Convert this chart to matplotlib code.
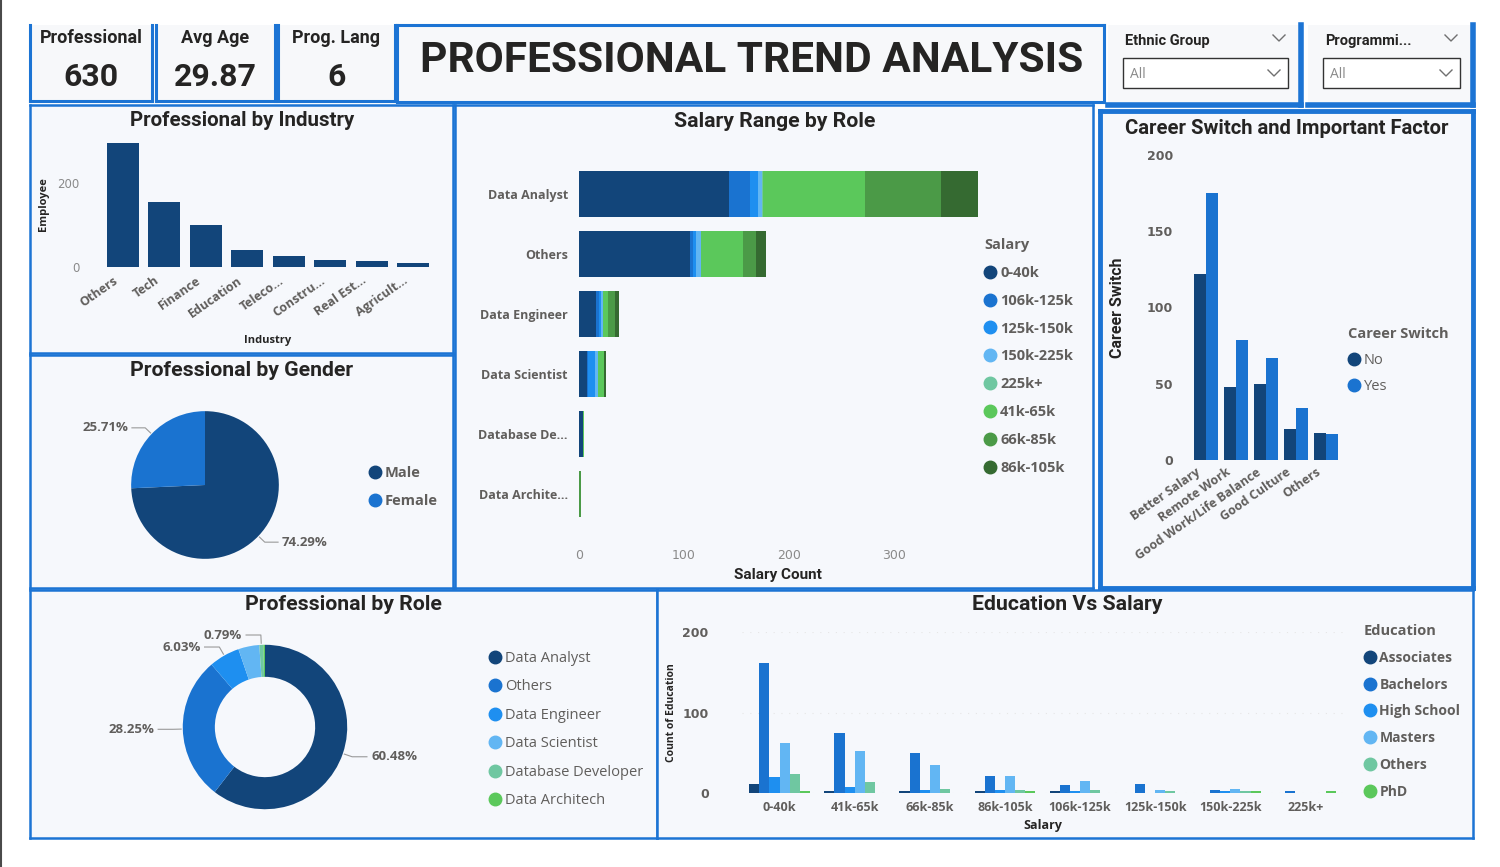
import matplotlib
matplotlib.use('Agg')
import matplotlib.pyplot as plt
from matplotlib.patches import Rectangle
from matplotlib.lines import Line2D
import numpy as np

# ---------------- data ----------------
kpi_names = ['Professional', 'Avg Age', 'Prog. Lang']
kpi_values = ['630', '29.87', '6']

industries = ['Others', 'Tech', 'Finance', 'Education', 'Teleco...', 'Constru...',
              'Real Est...', 'Agricult...']
industry_count = [294, 155, 101, 41, 25, 17, 14, 9]

gender_names = ['Male', 'Female']
gender_pct = [74.29, 25.71]

roles = ['Data Analyst', 'Others', 'Data Engineer', 'Data Scientist',
         'Database Developer', 'Data Architech']
role_ticks = ['Data Analyst', 'Others', 'Data Engineer', 'Data Scientist',
              'Database De...', 'Data Archite...']
role_count = [381, 178, 38, 26, 5, 2]

# salary range by role (stack order = legend order)
salary_legend = ['0-40k', '106k-125k', '125k-150k', '150k-225k', '225k+',
                 '41k-65k', '66k-85k', '86k-105k']
sal_0_40k = [143, 106, 16, 8, 4, 0]
sal_106_125k = [20, 3, 3, 1, 0, 0]
sal_125_150k = [7, 2, 2, 6, 0, 0]
sal_150_225k = [4, 5, 2, 3, 0, 0]
sal_225k_plus = [1, 0, 0, 0, 0, 0]
sal_41_65k = [97, 40, 5, 6, 1, 0]
sal_66_85k = [73, 13, 6, 0, 0, 2]
sal_86_105k = [36, 9, 4, 2, 0, 0]

factors = ['Better Salary', 'Remote Work', 'Good Work/Life Balance', 'Good Culture', 'Others']
switch_no = [122, 48, 50, 20, 18]
switch_yes = [175, 79, 67, 34, 17]

salary_bands = ['0-40k', '41k-65k', '66k-85k', '86k-105k', '106k-125k',
                '125k-150k', '150k-225k', '225k+']
education = ['Associates', 'Bachelors', 'High School', 'Masters', 'Others', 'PhD']
edu_associates = [11, 3, 2, 3, 3, 0, 0, 0]
edu_bachelors = [162, 75, 50, 21, 10, 11, 4, 2]
edu_high_school = [20, 8, 4, 4, 3, 0, 2, 0]
edu_masters = [62, 52, 35, 21, 15, 4, 5, 0]
edu_others = [24, 14, 5, 4, 4, 3, 2, 0]
edu_phd = [3, 0, 0, 3, 0, 0, 2, 2]

# ---------------- style ----------------
NAVY = '#12457A'
BLUE = '#1A73D0'
BRIGHT = '#1E8FF0'
LIGHT = '#62B6F3'
TEAL = '#6FC7A1'
GREEN = '#5BC85B'
MGREEN = '#4B9A47'
DGREEN = '#356A31'
EDGE = '#1C74D4'
BG = '#F6F8FC'
DARK = '#252423'
GRAY = '#605E5C'

TFONT = ['Roboto', 'DejaVu Sans']
BFONT = ['Open Sans', 'DejaVu Sans']

W, H = 1500, 867
fig = plt.figure(figsize=(15, 8.67), dpi=100)
fig.patch.set_facecolor('white')


def fx(x):
    return x / W


def fy(y):
    return 1 - y / H


def add_ax(x0, y0, x1, y1):
    ax = fig.add_axes([fx(x0), fy(y1), (x1 - x0) / W, (y1 - y0) / H])
    ax.set_facecolor('none')
    for s in ax.spines.values():
        s.set_visible(False)
    return ax


def panel(x0, y0, x1, y1, sides='lrtb', lw=1.8, fc=BG):
    fig.add_artist(Rectangle((fx(x0), fy(y1)), (x1 - x0) / W, (y1 - y0) / H,
                             transform=fig.transFigure, facecolor=fc,
                             edgecolor='none', zorder=0))
    segs = {'l': ([x0, x0], [y0, y1]), 'r': ([x1, x1], [y0, y1]),
            't': ([x0, x1], [y0, y0]), 'b': ([x0, x1], [y1, y1])}
    for s in sides:
        xs, ys = segs[s]
        fig.add_artist(Line2D([fx(v) for v in xs], [fy(v) for v in ys],
                              transform=fig.transFigure, color=EDGE, lw=lw, zorder=0))


def title(x, y, txt, size=15.3):
    fig.text(fx(x), fy(y), txt, ha='center', va='center', fontsize=size,
             fontweight='bold', color=DARK, family=TFONT)


def legend(colors, labels, x, y, ttl=None, spacing=1.0, weight='bold', size=10.5):
    handles = [Line2D([], [], marker='o', linestyle='none', markersize=9,
                      markerfacecolor=c, markeredgecolor=c) for c in colors]
    leg = fig.legend(handles, labels, loc='upper left', bbox_to_anchor=(fx(x), fy(y)),
                     frameon=False, title=ttl, alignment='left', handletextpad=0.3,
                     handlelength=0.8, labelspacing=spacing, borderpad=0,
                     borderaxespad=0,
                     prop={'size': size, 'weight': weight, 'family': BFONT},
                     title_fontproperties={'size': 10.5, 'weight': 'bold', 'family': BFONT})
    for t in leg.get_texts():
        t.set_color(GRAY)
    if ttl:
        leg.get_title().set_color(GRAY)
    return leg


def pie_labels(ax, wedges, labels):
    for w, lab in zip(wedges, labels):
        if not lab:
            continue
        ang = np.deg2rad((w.theta1 + w.theta2) / 2)
        c, s = np.cos(ang), np.sin(ang)
        sign = 1 if c >= 0 else -1
        p0 = (1.02 * c, 1.02 * s)
        p1 = (1.12 * c, 1.12 * s)
        p2 = (p1[0] + sign * 0.18, p1[1])
        ax.plot([p0[0], p1[0], p2[0]], [p0[1], p1[1], p2[1]], color='#9A9A9A', lw=0.8)
        ax.text(p2[0] + sign * 0.05, p2[1], lab, ha='left' if sign > 0 else 'right',
                va='center', fontsize=9.5, fontweight='bold', color=GRAY, family=BFONT)


# left window edge
fig.add_artist(Line2D([fx(1), fx(1)], [0, 1], transform=fig.transFigure,
                      color='#4A4A4A', lw=1.5))

# ---------------- top row ----------------
card_x = [(30, 152), (156, 275), (278, 395)]
for (x0, x1), name, val in zip(card_x, kpi_names, kpi_values):
    panel(x0, 25, x1, 101, sides='lrb', lw=2.2, fc='#F7F8FA')
    cx = (x0 + x1) / 2
    fig.text(fx(cx), fy(38), name, ha='center', va='center', fontsize=13,
             fontweight='bold', color=DARK, family=TFONT)
    fig.text(fx(cx), fy(77), val, ha='center', va='center', fontsize=23,
             fontweight='bold', color=DARK, family=TFONT)

panel(397, 25, 1104, 102, lw=2.2, fc='#F7F8FA')
fig.text(fx(752), fy(60), 'PROFESSIONAL TREND ANALYSIS', ha='center', va='center',
         fontsize=30.5, fontweight='bold', color=DARK, family=TFONT)


def slicer(x0, x1, name):
    panel(x0, 25, x1, 105, sides='rb', lw=4, fc='#F7F8FA')
    fig.text(fx(x0 + 17), fy(41), name, ha='left', va='center', fontsize=10.5,
             fontweight='bold', color=DARK, family=TFONT)
    fig.add_artist(Rectangle((fx(x0 + 15), fy(88)), (x1 - x0 - 28) / W, 30 / H,
                             transform=fig.transFigure, facecolor='white',
                             edgecolor='#333333', lw=1.0))
    fig.text(fx(x0 + 22), fy(74), 'All', ha='left', va='center', fontsize=10,
             color='#8A8A8A', family=BFONT)
    for cxv, cyv in [(x1 - 22, 38), (x1 - 27, 73)]:
        fig.add_artist(Line2D([fx(cxv - 6), fx(cxv), fx(cxv + 6)],
                              [fy(cyv - 3), fy(cyv + 3), fy(cyv - 3)],
                              transform=fig.transFigure, color='#707070', lw=1.0))


slicer(1108, 1301, 'Ethnic Group')
slicer(1308, 1473, 'Programmi...')

# ---------------- Professional by Industry ----------------
panel(30, 105, 453, 353)
title(242, 120, 'Professional by Industry', size=14.8)
ax = add_ax(102, 140, 434, 267)
xi = np.arange(len(industries))
ax.bar(xi, industry_count, width=0.78, color=NAVY)
ax.set_xlim(-0.5, len(industries) - 0.5)
ax.set_ylim(0, 302)
ax.set_yticks([0, 200])
ax.set_xticks(xi - 0.25)
ax.set_xticklabels(industries, rotation=35, ha='right', rotation_mode='anchor',
                   fontweight='bold', family=BFONT)
ax.tick_params(axis='x', length=0, pad=5, labelsize=9, colors=GRAY)
ax.tick_params(axis='y', length=0, pad=16, labelsize=8.5, colors='#8A8A8A')
fig.text(fx(43), fy(204), 'Employee', rotation=90, ha='center', va='center',
         fontsize=8, fontweight='bold', color=DARK, family=BFONT)
fig.text(fx(268), fy(341), 'Industry', ha='center', va='center', fontsize=8,
         fontweight='bold', color=DARK, family=BFONT)

# ---------------- Professional by Gender ----------------
panel(30, 355, 453, 588)
title(242, 371, 'Professional by Gender')
ax = add_ax(109, 389, 301, 581)
wedges, _ = ax.pie(gender_pct, colors=[NAVY, BLUE], startangle=90,
                   counterclock=False, radius=1)
ax.set_xlim(-1.3, 1.3)
ax.set_ylim(-1.3, 1.3)
ax.set_aspect('equal')
pie_labels(ax, wedges, [f'{v:.2f}%' for v in gender_pct])
legend([NAVY, BLUE], gender_names, 369, 466, spacing=0.95, size=10.5)

# ---------------- Salary Range by Role ----------------
panel(455, 105, 1093, 588)
title(775, 121, 'Salary Range by Role')
ax = add_ax(579, 164, 978, 524)
stacks = [sal_0_40k, sal_106_125k, sal_125_150k, sal_150_225k, sal_225k_plus,
          sal_41_65k, sal_66_85k, sal_86_105k]
sal_colors = [NAVY, BLUE, BRIGHT, LIGHT, TEAL, GREEN, MGREEN, DGREEN]
yr = np.arange(len(role_ticks))
left = np.zeros(len(role_ticks))
for vals, col in zip(stacks, sal_colors):
    ax.barh(yr, vals, left=left, height=0.78, color=col)
    left += np.array(vals)
ax.set_ylim(len(role_ticks) - 0.5, -0.5)
ax.set_xlim(0, 380)
ax.set_xticks([0, 100, 200, 300])
ax.set_yticks(yr)
ax.set_yticklabels(role_ticks, fontweight='bold', family=BFONT)
ax.tick_params(axis='x', length=0, pad=18, labelsize=9, colors='#8A8A8A')
ax.tick_params(axis='y', length=0, pad=8, labelsize=9, colors=GRAY)
fig.text(fx(778), fy(575), 'Salary Count', ha='center', va='center', fontsize=11,
         fontweight='bold', color=DARK, family=TFONT)
legend(sal_colors, salary_legend, 984, 238, ttl='Salary', spacing=0.95)

# ---------------- Career Switch ----------------
panel(1100, 111, 1473, 588, lw=3.5)
title(1287, 129, 'Career Switch and Important Factor', size=14.6)
ax = add_ax(1191, 155, 1341, 460)
xc = np.arange(len(factors))
ax.bar(xc - 0.2, switch_no, width=0.4, color=NAVY)
ax.bar(xc + 0.2, switch_yes, width=0.4, color=BLUE)
ax.set_xlim(-0.5, len(factors) - 0.5)
ax.set_ylim(0, 200)
ax.set_yticks([0, 50, 100, 150, 200])
ax.set_xticks(xc - 0.35)
ax.set_xticklabels(factors, rotation=35, ha='right', rotation_mode='anchor',
                   fontweight='bold', family=BFONT)
for t in ax.get_yticklabels():
    t.set_fontweight('bold')
ax.tick_params(axis='x', length=0, pad=4, labelsize=9, colors=GRAY)
ax.tick_params(axis='y', length=0, pad=13, labelsize=9, colors=GRAY)
fig.text(fx(1117), fy(308), 'Career Switch', rotation=90, ha='center', va='center',
         fontsize=11.5, fontweight='bold', color=DARK, family=TFONT)
legend([NAVY, BLUE], ['No', 'Yes'], 1348, 327, ttl='Career Switch', spacing=0.8,
       weight='normal')

# ---------------- Professional by Role ----------------
panel(30, 590, 657, 838)
title(343, 605, 'Professional by Role')
ax = add_ax(154, 616, 376, 838)
role_colors = [NAVY, BLUE, BRIGHT, LIGHT, TEAL, GREEN]
wedges, _ = ax.pie(role_count, colors=role_colors, startangle=90, counterclock=False,
                   radius=1, wedgeprops=dict(width=0.39))
ax.set_xlim(-1.35, 1.35)
ax.set_ylim(-1.35, 1.35)
ax.set_aspect('equal')
total = sum(role_count)
shown = [0, 1, 2, 4]
pie_labels(ax, wedges, [f'{100 * v / total:.2f}%' if i in shown else ''
                        for i, v in enumerate(role_count)])
legend(role_colors, roles, 489, 651, spacing=0.92, weight='normal', size=10.5)

# ---------------- Education Vs Salary ----------------
panel(657, 590, 1473, 838)
title(1067, 605, 'Education Vs Salary')
ax = add_ax(742, 632, 1343, 793)
edu_sets = [edu_associates, edu_bachelors, edu_high_school, edu_masters, edu_others, edu_phd]
edu_colors = [NAVY, BLUE, BRIGHT, LIGHT, TEAL, GREEN]
xs = np.arange(len(salary_bands))
bw = 0.135
for i, (vals, col) in enumerate(zip(edu_sets, edu_colors)):
    ax.bar(xs + (i - 2.5) * bw, vals, width=bw, color=col)
ax.set_xlim(-0.5, len(salary_bands) - 0.5)
ax.set_ylim(0, 200)
ax.set_yticks([0, 100, 200])
ax.yaxis.grid(True, color='#E6E6E6', lw=0.8, linestyle=(0, (1, 6)))
ax.set_axisbelow(True)
ax.set_xticks(xs)
ax.set_xticklabels(salary_bands, fontweight='bold', family=BFONT)
for t in ax.get_yticklabels():
    t.set_fontweight('bold')
ax.tick_params(axis='x', length=0, pad=6, labelsize=9, colors=GRAY)
ax.tick_params(axis='y', length=0, pad=24, labelsize=9, colors=GRAY)
fig.text(fx(672), fy(713), 'Count of Education', rotation=90, ha='center', va='center',
         fontsize=7.5, fontweight='bold', color=DARK, family=BFONT)
fig.text(fx(1043), fy(825), 'Salary', ha='center', va='center', fontsize=9,
         fontweight='bold', color=DARK, family=BFONT)
legend(edu_colors, education, 1364, 624, ttl='Education', spacing=0.92, size=10)

fig.savefig('out.png', dpi=100, facecolor='white')
